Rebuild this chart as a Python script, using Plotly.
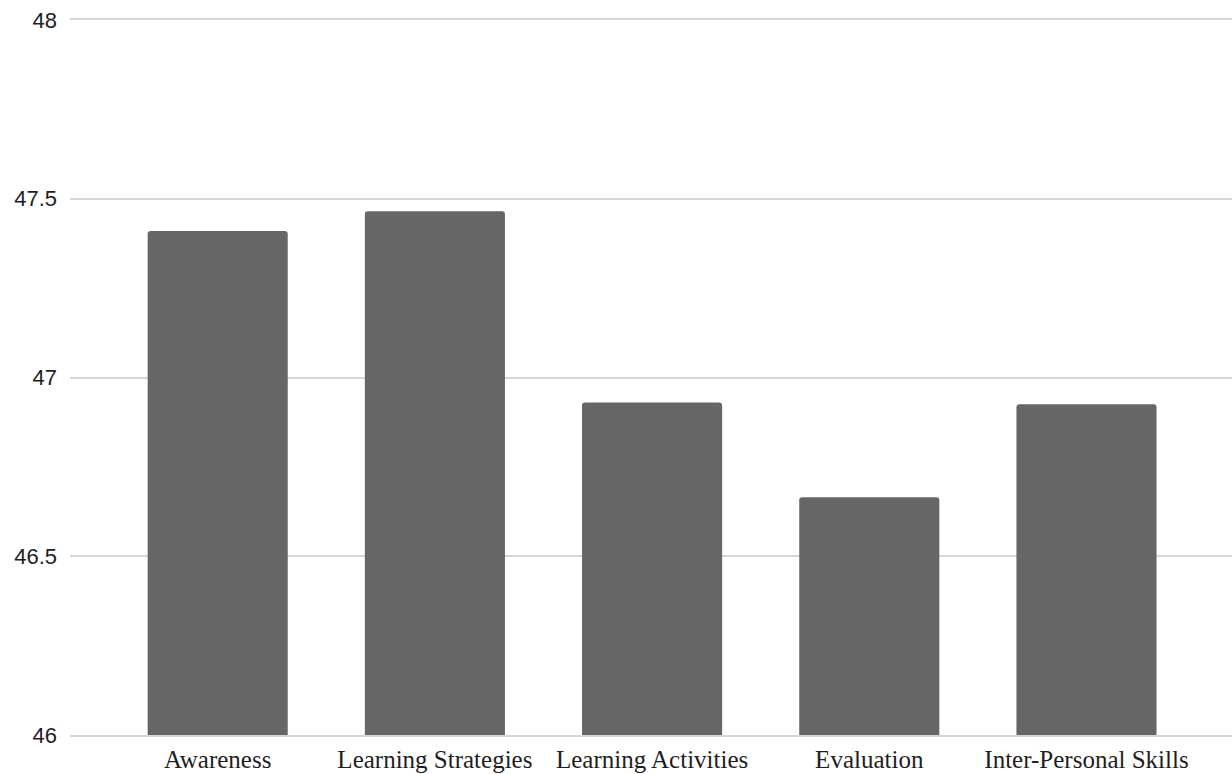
import plotly.graph_objects as go

categories = ["Awareness", "Learning Strategies", "Learning Activities", "Evaluation", "Inter-Personal Skills"]
scores = [47.41, 47.465, 46.93, 46.665, 46.925]
y_ticks = [46, 46.5, 47, 47.5, 48]
y_tick_text = ["46", "46.5", "47", "47.5", "48"]

grid_color = "#d6d6d6"

fig = go.Figure(
    go.Bar(
        x=categories,
        y=scores,
        marker=dict(color="#666666", cornerradius=3, line=dict(width=0)),
        width=0.645,
    )
)

fig.update_layout(
    width=1232,
    height=774,
    margin=dict(l=70, r=0, t=20, b=39),
    paper_bgcolor="white",
    plot_bgcolor="white",
    showlegend=False,
    xaxis=dict(
        range=[-0.68, 4.67],
        automargin=False,
        showgrid=False,
        zeroline=False,
        # bottom and top frame lines act as the 46 and 48 grid lines
        showline=True,
        mirror=True,
        linecolor=grid_color,
        linewidth=1.5,
        ticks="",
        tickfont=dict(family="Liberation Serif", size=25, color="#1e1e1e"),
        ticklabelstandoff=1,
    ),
    yaxis=dict(
        range=[46, 48],
        automargin=False,
        tickvals=y_ticks,
        ticktext=y_tick_text,
        showgrid=True,
        gridcolor=grid_color,
        gridwidth=1.5,
        zeroline=False,
        showline=False,
        ticks="",
        tickfont=dict(family="Liberation Sans", size=22, color="#1e1e1e"),
        ticklabelstandoff=12,
    ),
)

fig.write_html("out.html")
